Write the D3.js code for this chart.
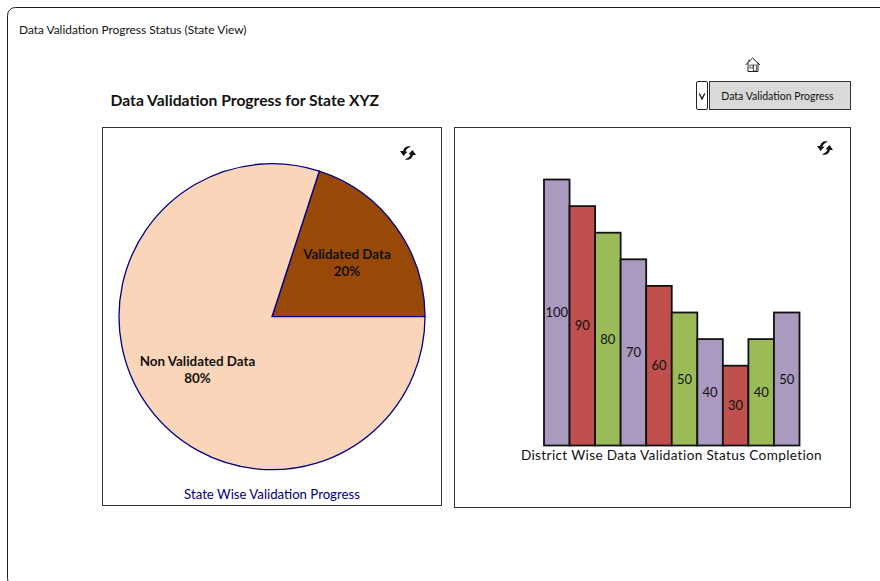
<!DOCTYPE html>
<html>
<head>
<meta charset="utf-8">
<script src="https://cdn.jsdelivr.net/npm/d3@7/dist/d3.min.js"></script>
<style>
  html, body { margin: 0; padding: 0; background: #fff; }
  svg { display: block; }
  text { font-family: Lato, "Open Sans", sans-serif; fill: #111; }
</style>
</head>
<body>
<svg id="view" width="880" height="581"></svg>
<script>
// Pie: share of validated records for the state
const pieLabels = ["Validated Data", "Non Validated Data"];
const pieValues = [20, 80];
const pieColors = ["#984807", "#fbd5b9"];

// Bars: completion per district
const districts = ["D1", "D2", "D3", "D4", "D5", "D6", "D7", "D8", "D9", "D10"];
const completion = [100, 90, 80, 70, 60, 50, 40, 30, 40, 50];
const barColors = ["#aa9ac0", "#c0504d", "#9bbb59"];
const barColorOrder = [0, 1, 2, 0, 1, 2, 0, 1, 2, 0];

const svg = d3.select("#view");

// Dashboard frame, running off the right and bottom edges
svg.append("rect")
  .attr("x", 7.5).attr("y", 7.5)
  .attr("width", 900).attr("height", 579)
  .attr("rx", 8).attr("fill", "none")
  .attr("stroke", "#1a1a1a").attr("stroke-width", 1);

svg.append("text").attr("x", 19).attr("y", 34)
  .attr("font-size", 11.9).text("Data Validation Progress Status (State View)");

svg.append("text").attr("x", 110.5).attr("y", 106)
  .attr("font-size", 15.7).attr("font-weight", 700)
  .text("Data Validation Progress for State XYZ");

// Chart panels
function panel(x, y, w, h) {
  svg.append("rect").attr("x", x).attr("y", y).attr("width", w).attr("height", h)
    .attr("fill", "#fff").attr("stroke", "#333").attr("stroke-width", 1);
}
panel(102.5, 127.5, 339, 378);
panel(454.5, 127.5, 396, 380);

// Dropdown and its button
svg.append("rect").attr("x", 696.5).attr("y", 81.5).attr("width", 11).attr("height", 28)
  .attr("rx", 1.5).attr("fill", "#fff").attr("stroke", "#222");
svg.append("path").attr("d", "M699.3 93.5 L702 99 L704.7 93.5")
  .attr("fill", "none").attr("stroke", "#111").attr("stroke-width", 1.3);
svg.append("rect").attr("x", 709.5).attr("y", 81.5).attr("width", 141).attr("height", 28)
  .attr("fill", "#d9d9d9").attr("stroke", "#333");
svg.append("text").attr("x", 777.5).attr("y", 99.5).attr("text-anchor", "middle")
  .attr("font-size", 10.5).text("Data Validation Progress");

// Home icon
const home = svg.append("g").attr("transform", "translate(745,57)")
  .attr("fill", "none").attr("stroke", "#222").attr("stroke-width", 1);
home.append("path").attr("d", "M0.5 8 L7.5 1 L15 8");
home.append("path").attr("d", "M3 5.5 V14.5 H13 V5.5");
home.append("path").attr("d", "M4 2.5 V5");
home.append("rect").attr("x", 5).attr("y", 8).attr("width", 3).attr("height", 3).attr("stroke-width", 0.7);
home.append("rect").attr("x", 8.5).attr("y", 8).attr("width", 3).attr("height", 6).attr("stroke-width", 0.7);

// Refresh icon shared by the two panels: two curved arrows chasing each other
function refreshIcon(cx, cy) {
  const g = svg.append("g").attr("transform", `translate(${cx},${cy})`).attr("fill", "#111");
  const arrow = "M3 -6.5 C-1 -7.5 -4 -6 -5 -2 L-8 -2 L-4.5 3 L-0.5 -1.2 L-2.6 -1.6 C-2 -3.6 0 -5 3 -6.5 Z";
  g.append("path").attr("d", arrow);
  g.append("path").attr("d", arrow).attr("transform", "rotate(180)");
}
refreshIcon(408, 153);
refreshIcon(825, 148);

// Pie
const pieCx = 272, pieCy = 316.7, pieR = 153;
const pie = d3.pie().sort(null)
  .startAngle(18 * Math.PI / 180)
  .endAngle((18 + 360) * Math.PI / 180);
const arc = d3.arc().innerRadius(0).outerRadius(pieR);
const pieG = svg.append("g").attr("transform", `translate(${pieCx},${pieCy})`);
const slices = pie(pieValues);
pieG.selectAll("path").data(slices).join("path")
  .attr("d", arc)
  .attr("fill", (d, i) => pieColors[i])
  .attr("stroke", "#000080").attr("stroke-width", 1.3);

const pieLabelAt = [[347, 259], [197.5, 366]];
pieLabels.forEach((name, i) => {
  const t = svg.append("text").attr("text-anchor", "middle")
    .attr("font-size", 13.4).attr("font-weight", 700);
  t.append("tspan").attr("x", pieLabelAt[i][0]).attr("y", pieLabelAt[i][1]).text(name);
  t.append("tspan").attr("x", pieLabelAt[i][0]).attr("y", pieLabelAt[i][1] + 17).text(pieValues[i] + "%");
});

svg.append("text").attr("x", 272).attr("y", 499).attr("text-anchor", "middle")
  .attr("font-size", 13.2).style("fill", "#000080").text("State Wise Validation Progress");

// Bars
const x = d3.scaleBand().domain(districts).range([544, 799.5]).padding(0);
const y = d3.scaleLinear().domain([0, 100]).range([445.5, 179.5]);

svg.append("g").selectAll("rect").data(completion).join("rect")
  .attr("x", (d, i) => x(districts[i]))
  .attr("y", d => y(d))
  .attr("width", x.bandwidth())
  .attr("height", d => y(0) - y(d))
  .attr("fill", (d, i) => barColors[barColorOrder[i]])
  .attr("stroke", "#111").attr("stroke-width", 1.8);

svg.append("g").selectAll("text").data(completion).join("text")
  .attr("x", (d, i) => x(districts[i]) + x.bandwidth() / 2)
  .attr("y", d => (y(d) + y(0)) / 2 + 4.5)
  .attr("text-anchor", "middle")
  .attr("font-size", 13)
  .text(d => d);

svg.append("text").attr("x", 671.5).attr("y", 460).attr("text-anchor", "middle")
  .attr("font-size", 13.6).attr("letter-spacing", 0.35)
  .text("District Wise Data Validation Status Completion");
</script>
</body>
</html>
